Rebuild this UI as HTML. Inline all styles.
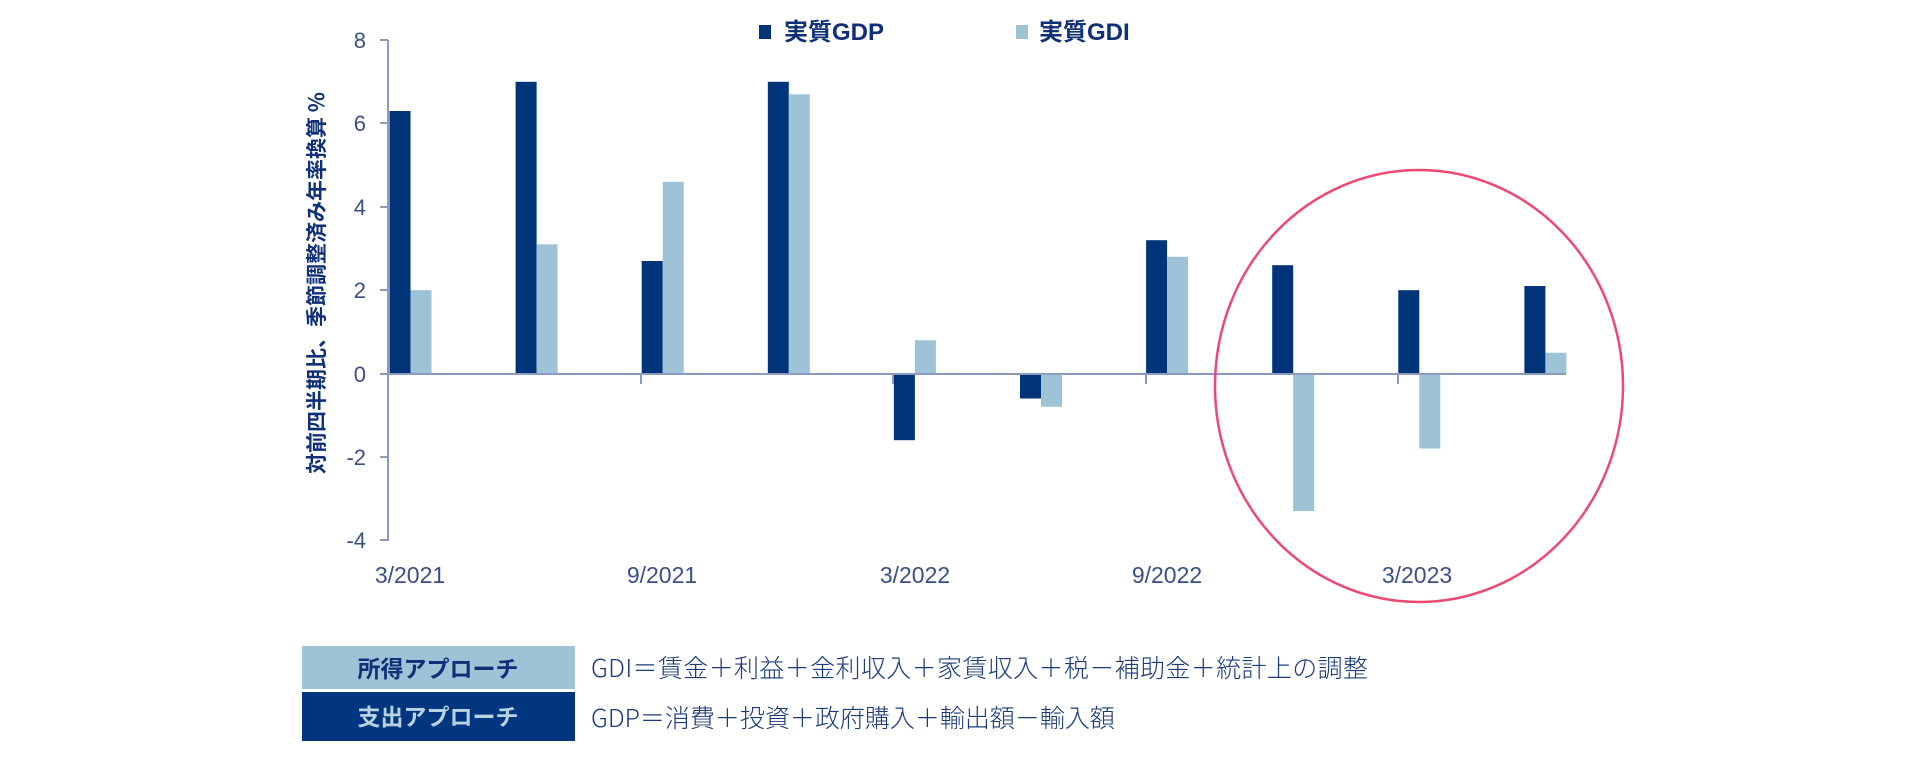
<!DOCTYPE html>
<html><head><meta charset="utf-8"><style>
body{margin:0;width:1920px;height:760px;background:#fff;overflow:hidden}
svg text{font-family:"Liberation Sans","Noto Sans CJK JP",sans-serif}
.jp{font-family:"Noto Sans CJK JP",sans-serif}
</style></head><body>
<svg width="1920" height="760" xmlns="http://www.w3.org/2000/svg">
<g fill="#003478">
<rect x="389.5" y="111" width="21" height="262.5"/>
<rect x="515.6" y="81.8" width="21" height="291.7"/>
<rect x="641.7" y="261" width="21" height="112.5"/>
<rect x="767.8" y="81.8" width="21" height="291.7"/>
<rect x="893.9" y="373.5" width="21" height="66.7"/>
<rect x="1020" y="373.5" width="21" height="25"/>
<rect x="1146.1" y="240.2" width="21" height="133.3"/>
<rect x="1272.2" y="265.2" width="21" height="108.3"/>
<rect x="1398.3" y="290.2" width="21" height="83.3"/>
<rect x="1524.4" y="286" width="21" height="87.5"/>
</g>
<g fill="#9ec3d6">
<rect x="410.5" y="290.2" width="21" height="83.3"/>
<rect x="536.6" y="244.3" width="21" height="129.2"/>
<rect x="662.7" y="181.8" width="21" height="191.7"/>
<rect x="788.8" y="94.3" width="21" height="279.2"/>
<rect x="914.9" y="340.2" width="21" height="33.3"/>
<rect x="1041" y="373.5" width="21" height="33.3"/>
<rect x="1167.1" y="256.8" width="21" height="116.7"/>
<rect x="1293.2" y="373.5" width="21" height="137.5"/>
<rect x="1419.3" y="373.5" width="21" height="75"/>
<rect x="1545.4" y="352.7" width="21" height="20.8"/>
</g>
<g stroke="#8a9bbf" stroke-width="2">
<line x1="388" y1="40" x2="388" y2="541"/>
<line x1="388" y1="374" x2="1566" y2="374"/>
<line x1="380" y1="40" x2="388" y2="40"/><line x1="380" y1="123" x2="388" y2="123"/><line x1="380" y1="207" x2="388" y2="207"/><line x1="380" y1="290" x2="388" y2="290"/><line x1="380" y1="374" x2="388" y2="374"/><line x1="380" y1="457" x2="388" y2="457"/><line x1="380" y1="540" x2="388" y2="540"/>
<line x1="641" y1="374" x2="641" y2="384"/><line x1="893" y1="374" x2="893" y2="384"/><line x1="1146" y1="374" x2="1146" y2="384"/><line x1="1398" y1="374" x2="1398" y2="384"/>
</g>
<g fill="#3a4f86" font-size="22" text-anchor="end">
<text x="366" y="48">8</text><text x="366" y="131">6</text><text x="366" y="215">4</text><text x="366" y="298">2</text><text x="366" y="382">0</text><text x="366" y="465">-2</text><text x="366" y="548">-4</text>
</g>
<g fill="#3a4f86" font-size="23" text-anchor="middle">
<text x="410" y="583">3/2021</text><text x="662" y="583">9/2021</text><text x="915" y="583">3/2022</text><text x="1167" y="583">9/2022</text><text x="1417" y="583">3/2023</text>
</g>
<text class="jp" transform="translate(324,283) rotate(-90)" text-anchor="middle" font-size="21" font-weight="bold" fill="#0f2f78">対前四半期比、季節調整済み年率換算 %</text>
<rect x="759" y="25" width="12" height="14" fill="#003478"/>
<text x="784" y="40" font-size="24" font-weight="bold" fill="#0f2f78">実質GDP</text>
<rect x="1016" y="25" width="12" height="14" fill="#9ec3d6"/>
<text x="1039" y="40" font-size="24" font-weight="bold" fill="#0f2f78">実質GDI</text>
<ellipse cx="1419" cy="386" rx="204" ry="216" fill="none" stroke="#ec4a72" stroke-width="2.5"/>
<rect x="302" y="646" width="273" height="43" fill="#9dc3d6"/>
<rect x="302" y="692" width="273" height="49" fill="#003580"/>
<text class="jp" x="438" y="677" text-anchor="middle" font-size="23" font-weight="bold" fill="#0f2f78">所得アプローチ</text>
<text class="jp" x="438" y="725" text-anchor="middle" font-size="23" font-weight="bold" fill="#b9d2e2">支出アプローチ</text>
<text class="jp" x="591" y="677" font-size="25" font-weight="300" fill="#1a3a7a" textLength="777">GDI＝賃金＋利益＋金利収入＋家賃収入＋税－補助金＋統計上の調整</text>
<text class="jp" x="591" y="727" font-size="25" font-weight="300" fill="#1a3a7a">GDP＝消費＋投資＋政府購入＋輸出額－輸入額</text>
</svg>
</body></html>
